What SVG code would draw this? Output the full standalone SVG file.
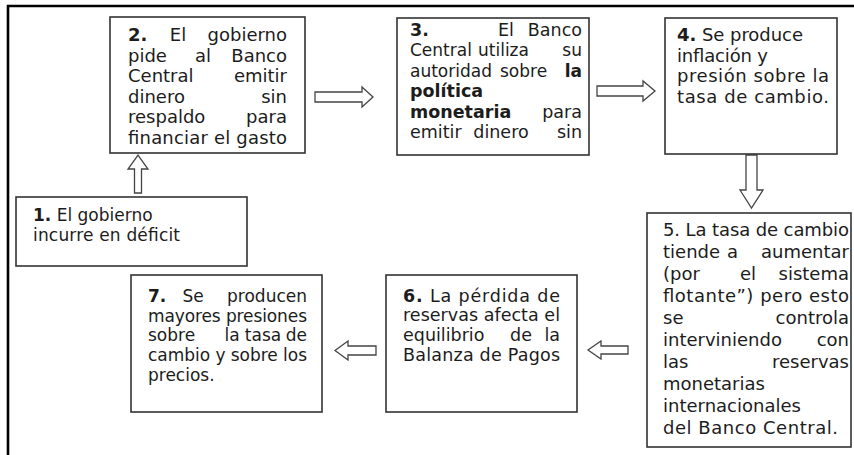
<svg xmlns="http://www.w3.org/2000/svg" width="854" height="455" viewBox="0 0 854 455">
<style>
.t{font-family:"DejaVu Sans",Verdana,sans-serif;font-size:18px;fill:#1c1c1c}
.s17{font-size:17px}
.s175{font-size:17.5px}
.b{font-weight:bold}
.e{text-anchor:end}
.m{text-anchor:middle}
.box{fill:#fff;stroke:#333;stroke-width:1.6}
.arr{fill:#fff;stroke:#444;stroke-width:1.3;stroke-linejoin:miter}
.frame{fill:none;stroke:#000;stroke-width:2.6}
</style>
<rect width="854" height="455" fill="#fff"/>
<path class="frame" d="M8,455 V6 H854"/>

<g id="connectors">
<polygon class="arr" points="134.5,193 134.5,169 128,169 138,155 148,169 141.5,169 141.5,193"/>
<polygon class="arr" points="315,92 362,92 362,87 373,97 362,107 362,102 315,102"/>
<polygon class="arr" points="597,86 643,86 643,81 655,91 643,101 643,96 597,96"/>
<polygon class="arr" points="746,155 746,190 740,190 751.5,208 763,190 757,190 757,155"/>
<polygon class="arr" points="628,346 601,346 601,341 588,350 601,359 601,354 628,354"/>
<polygon class="arr" points="376,346 348,346 348,341 335,350.5 348,360 348,355 376,355"/>
</g>

<g id="node1">
<rect class="box" x="16" y="197" width="231" height="69"/>
<text class="t s17" x="33" y="221"><tspan class="b">1.</tspan> El gobierno</text>
<text class="t s17" x="33" y="241" textLength="147" lengthAdjust="spacing">incurre en déficit</text>
</g>

<g id="node2">
<rect class="box" x="110" y="17" width="195" height="136"/>
<text class="t b" x="128" y="41">2.</text>
<text class="t m" x="178" y="41">El</text>
<text class="t e" x="287" y="41">gobierno</text>
<text class="t" x="128" y="61.5">pide</text>
<text class="t m" x="203" y="61.5">al</text>
<text class="t e" x="287" y="61.5">Banco</text>
<text class="t" x="128" y="82">Central</text>
<text class="t e" x="287" y="82">emitir</text>
<text class="t" x="128" y="102.5">dinero</text>
<text class="t e" x="287" y="102.5">sin</text>
<text class="t" x="128" y="123">respaldo</text>
<text class="t e" x="287" y="123">para</text>
<text class="t" x="128" y="143.5" textLength="159" lengthAdjust="spacing">financiar el gasto</text>
</g>

<g id="node3">
<rect class="box" x="397" y="18" width="192" height="137"/>
<text class="t s175 b" x="410" y="36">3.</text>
<text class="t s175 m" x="506" y="36">El</text>
<text class="t s175 e" x="582" y="36">Banco</text>
<text class="t s17" x="410" y="56.4">Central</text>
<text class="t s17" x="478" y="56.4">utiliza</text>
<text class="t s17 e" x="582" y="56.4">su</text>
<text class="t s17" x="410" y="76.8">autoridad</text>
<text class="t s17" x="500" y="76.8">sobre</text>
<text class="t s17 e b" x="582" y="76.8">la</text>
<text class="t s175 b" x="410" y="97.2">política</text>
<text class="t s175 b" x="410" y="117.6">monetaria</text>
<text class="t s175 e" x="582" y="117.6">para</text>
<text class="t s175" x="410" y="138">emitir</text>
<text class="t s175 m" x="501" y="138">dinero</text>
<text class="t s175 e" x="582" y="138">sin</text>
</g>

<g id="node4">
<rect class="box" x="665" y="18" width="172" height="136"/>
<text class="t" x="677" y="41" textLength="126" lengthAdjust="spacing"><tspan class="b">4.</tspan> Se produce</text>
<text class="t" x="677" y="61.7" textLength="91" lengthAdjust="spacing">inflación y</text>
<text class="t" x="677" y="82.3" textLength="152" lengthAdjust="spacing">presión sobre la</text>
<text class="t" x="677" y="103" textLength="152" lengthAdjust="spacing">tasa de cambio.</text>
</g>

<g id="node5">
<rect class="box" x="647" y="213" width="204" height="234"/>
<text class="t" x="663" y="236" textLength="186" lengthAdjust="spacing">5. La tasa de cambio</text>
<text class="t" x="663" y="258">tiende</text>
<text class="t m" x="732.5" y="258">a</text>
<text class="t e" x="849" y="258">aumentar</text>
<text class="t" x="663" y="280">(por</text>
<text class="t m" x="748" y="280">el</text>
<text class="t e" x="849" y="280">sistema</text>
<text class="t" x="663" y="302" textLength="186" lengthAdjust="spacing">flotante”) pero esto</text>
<text class="t" x="663" y="324">se</text>
<text class="t e" x="849" y="324">controla</text>
<text class="t" x="663" y="346">interviniendo</text>
<text class="t e" x="849" y="346">con</text>
<text class="t" x="663" y="368">las</text>
<text class="t e" x="849" y="368">reservas</text>
<text class="t" x="663" y="390">monetarias</text>
<text class="t" x="663" y="412">internacionales</text>
<text class="t" x="663" y="434" textLength="175" lengthAdjust="spacing">del Banco Central.</text>
</g>

<g id="node6">
<rect class="box" x="386" y="275" width="191" height="137"/>
<text class="t s175" x="403" y="301.5" textLength="157" lengthAdjust="spacing"><tspan class="b">6.</tspan> La pérdida de</text>
<text class="t s175" x="403" y="321" textLength="157" lengthAdjust="spacing">reservas afecta el</text>
<text class="t s175" x="403" y="341">equilibrio</text>
<text class="t s175 m" x="521" y="341">de</text>
<text class="t s175 e" x="560" y="341">la</text>
<text class="t s175" x="403" y="361" textLength="157" lengthAdjust="spacing">Balanza de Pagos</text>
</g>

<g id="node7">
<rect class="box" x="131" y="275" width="191" height="137"/>
<text class="t s17 b" x="148" y="301.5">7.</text>
<text class="t s17 m" x="193" y="301.5">Se</text>
<text class="t s17 e" x="307" y="301.5">producen</text>
<text class="t s17" x="148" y="321.5" textLength="159" lengthAdjust="spacing">mayores presiones</text>
<text class="t s17" x="148" y="341">sobre</text>
<text class="t s17 m" x="232" y="341">la</text>
<text class="t s17 m" x="263" y="341">tasa</text>
<text class="t s17 e" x="307" y="341">de</text>
<text class="t s17" x="148" y="361" textLength="159" lengthAdjust="spacing">cambio y sobre los</text>
<text class="t s17" x="148" y="381">precios.</text>
</g>
</svg>
